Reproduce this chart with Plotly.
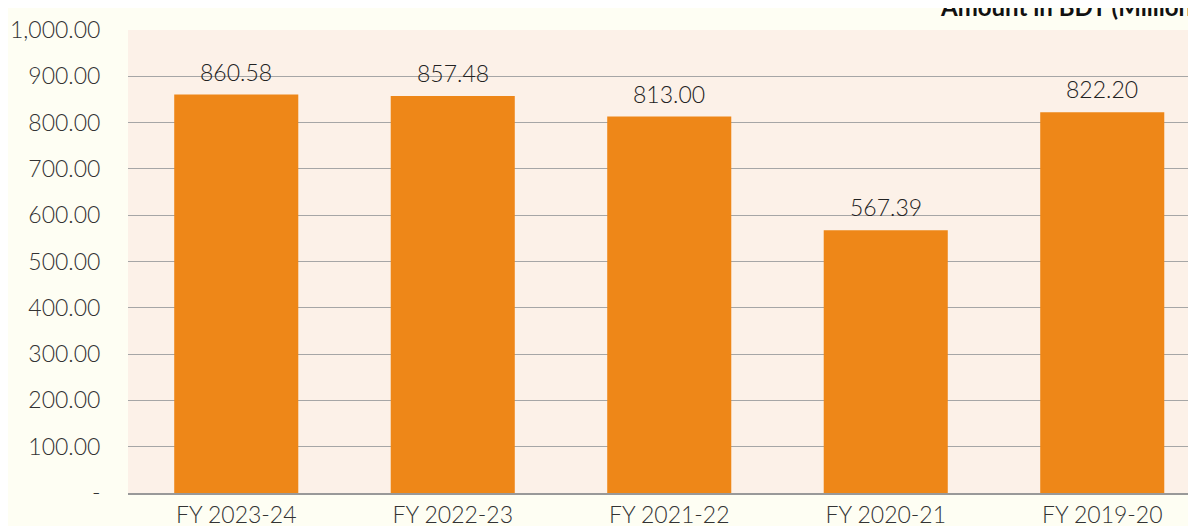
import plotly.graph_objects as go

categories = ["FY 2023-24", "FY 2022-23", "FY 2021-22", "FY 2020-21", "FY 2019-20"]
values = [860.58, 857.48, 813.00, 567.39, 822.20]
labels = ["860.58", "857.48", "813.00", "567.39", "822.20"]
tick_vals = [0, 100, 200, 300, 400, 500, 600, 700, 800, 900, 1000]
tick_text = ["-", "100.00", "200.00", "300.00", "400.00", "500.00", "600.00",
             "700.00", "800.00", "900.00", "1,000.00"]

FONT = "Lato"
FS = 23

fig = go.Figure(go.Bar(
    x=categories, y=values,
    marker=dict(color="#EE8718", line=dict(width=0)),
    hoverinfo="x+y",
))

for c, v, t in zip(categories, values, labels):
    fig.add_annotation(x=c, y=v, text=t, showarrow=False, yanchor="bottom",
                       yshift=7, font=dict(family=FONT, size=FS, color="#222222", weight=300))

fig.add_annotation(text="<b>Amount in BDT (Million)</b>", xref="paper", yref="paper",
                   x=0.7525, y=1.016, xanchor="left", yanchor="bottom", showarrow=False,
                   font=dict(family=FONT, size=24, color="#111111"))

fig.update_layout(
    width=1196, height=526,
    margin=dict(l=120, r=0, t=22, b=41, autoexpand=False),
    paper_bgcolor="#FEFEF3",
    plot_bgcolor="#FCF1E8",
    bargap=0.427,
    showlegend=False,
    font=dict(family=FONT, size=FS, color="#333333"),
    xaxis=dict(range=[-0.5, 4.47], showgrid=False, ticks="", showline=True,
               linecolor="#999999", linewidth=2, automargin=False,
               tickfont=dict(family=FONT, size=FS, color="#333333", weight=300)),
    yaxis=dict(range=[0, 1000], tickvals=tick_vals, ticktext=tick_text,
               showgrid=True, gridcolor="#A6A6A6", gridwidth=1, zeroline=False,
               ticks="outside", ticklen=22, tickcolor="rgba(0,0,0,0)", automargin=False,
               tickfont=dict(family=FONT, size=FS, color="#333333", weight=300)),
)

fig.write_html("out.html")
